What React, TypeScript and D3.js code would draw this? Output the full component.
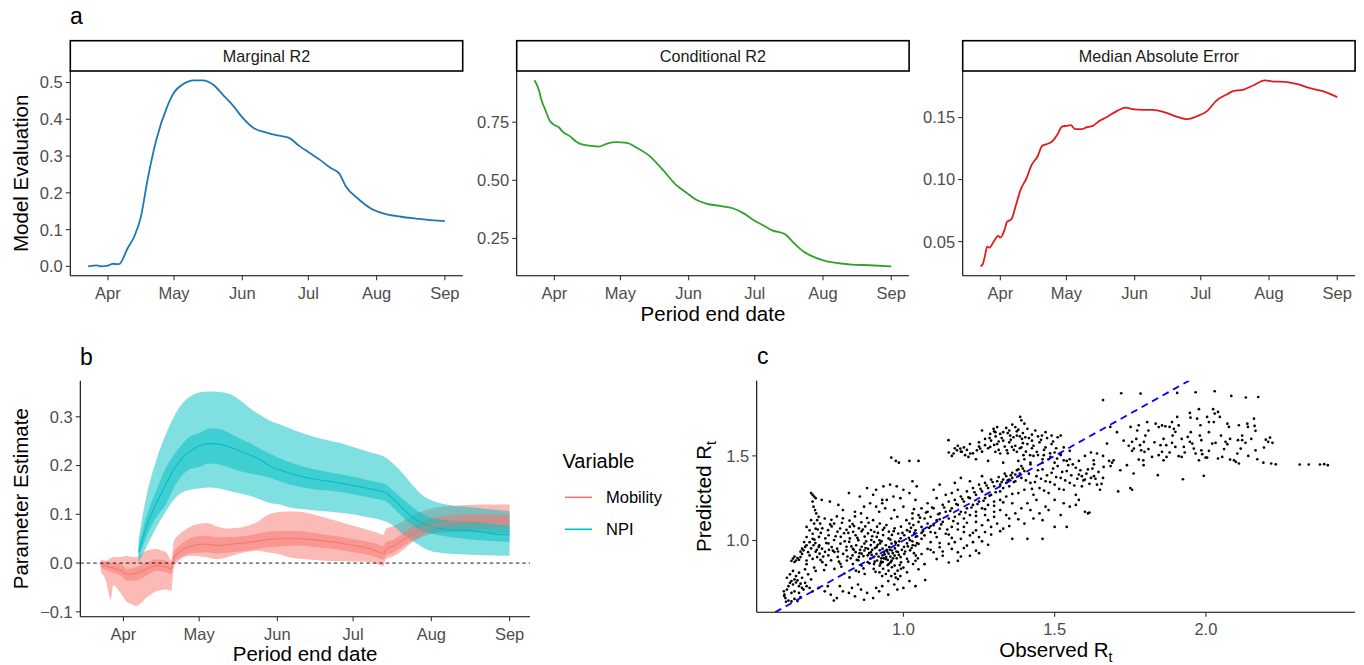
import React from 'react';
import * as d3 from 'd3';

// ---------------- DATA ----------------
const monthTickDates = ['04-01', '05-01', '06-01', '07-01', '08-01', '09-01'];
const monthTickLabels = ['Apr', 'May', 'Jun', 'Jul', 'Aug', 'Sep'];

const marginalDates = ['03-23','03-27','03-29','04-01','04-03','04-06','04-10','04-13','04-16','04-19','04-23','04-28','05-01','05-05','05-10','05-14','05-19','05-23','05-28','06-01','06-06','06-12','06-17','06-22','06-27','07-02','07-06','07-11','07-15','07-18','07-24','07-29','08-04','08-12','08-19','08-27','09-01'];
const marginalValues = [0.000,0.003,0.000,0.002,0.007,0.006,0.050,0.082,0.136,0.236,0.345,0.436,0.473,0.495,0.506,0.506,0.493,0.468,0.436,0.405,0.377,0.364,0.356,0.350,0.327,0.307,0.291,0.268,0.253,0.218,0.182,0.159,0.144,0.135,0.130,0.125,0.123];

const conditionalDates = ['03-23','03-25','03-26','03-28','03-30','04-01','04-03','04-05','04-08','04-11','04-14','04-18','04-21','04-25','04-29','05-04','05-08','05-14','05-20','05-26','05-31','06-04','06-09','06-15','06-21','06-26','06-30','07-05','07-09','07-15','07-18','07-23','07-27','08-01','08-07','08-14','08-22','09-01'];
const conditionalValues = [0.930,0.887,0.850,0.800,0.755,0.738,0.728,0.707,0.690,0.666,0.653,0.648,0.645,0.658,0.664,0.661,0.642,0.606,0.548,0.483,0.447,0.419,0.400,0.390,0.380,0.358,0.332,0.306,0.285,0.267,0.238,0.195,0.174,0.156,0.145,0.138,0.135,0.130];

const maeDates = ['03-23','03-24','03-25','03-26','03-27','03-29','03-31','04-01','04-03','04-04','04-06','04-08','04-10','04-13','04-15','04-18','04-20','04-22','04-24','04-27','04-29','05-01','05-03','05-05','05-08','05-10','05-13','05-16','05-19','05-24','05-28','05-31','06-05','06-09','06-15','06-20','06-25','06-29','07-04','07-08','07-13','07-16','07-20','07-25','07-30','08-03','08-08','08-14','08-20','08-25','08-29','09-01'];
const maeValues = [0.0300,0.0317,0.0385,0.0460,0.0450,0.0500,0.0546,0.0532,0.0600,0.0659,0.0680,0.0788,0.0909,0.1016,0.1110,0.1190,0.1272,0.1285,0.1300,0.1366,0.1427,0.1433,0.1438,0.1406,0.1406,0.1420,0.1433,0.1473,0.1500,0.1554,0.1580,0.1567,0.1562,0.1562,0.1540,0.1508,0.1487,0.1508,0.1554,0.1634,0.1688,0.1715,0.1723,0.1760,0.1800,0.1790,0.1788,0.1769,0.1734,0.1715,0.1688,0.1664];

const mobilityDates = ['03-23','03-25','03-27','03-28','03-30','04-01','04-02','04-04','04-06','04-08','04-10','04-12','04-14','04-16','04-18','04-20','04-21','04-23','04-25','04-28','05-01','05-04','05-08','05-12','05-16','05-20','05-24','05-28','06-01','06-05','06-10','06-15','06-20','06-25','06-30','07-05','07-10','07-13','07-14','07-17','07-21','07-25','07-30','08-04','08-09','08-15','08-21','08-26','09-01'];
const mobilityMean = [-0.003,-0.005,-0.009,-0.010,-0.013,-0.018,-0.023,-0.023,-0.021,-0.017,-0.012,-0.008,-0.005,-0.006,-0.008,-0.012,0.012,0.022,0.029,0.035,0.038,0.039,0.036,0.038,0.040,0.042,0.045,0.048,0.050,0.050,0.050,0.048,0.045,0.042,0.037,0.033,0.025,0.019,0.028,0.035,0.048,0.061,0.073,0.079,0.083,0.085,0.086,0.086,0.086];
const mobilityLo95 = [-0.019,-0.035,-0.075,-0.045,-0.055,-0.070,-0.078,-0.084,-0.088,-0.082,-0.071,-0.064,-0.058,-0.055,-0.054,-0.057,-0.008,0.005,0.012,0.015,0.014,0.012,0.008,0.012,0.018,0.023,0.025,0.022,0.019,0.013,0.009,0.007,0.005,0.004,0.003,0.003,-0.001,-0.006,0.008,0.014,0.028,0.044,0.057,0.062,0.063,0.063,0.063,0.061,0.060];
const mobilityHi95 = [0.008,0.005,0.010,0.013,0.012,0.013,0.015,0.013,0.012,0.018,0.025,0.028,0.029,0.026,0.022,0.005,0.045,0.058,0.067,0.076,0.080,0.082,0.075,0.071,0.072,0.076,0.084,0.098,0.104,0.106,0.105,0.100,0.093,0.086,0.078,0.071,0.063,0.058,0.070,0.076,0.087,0.099,0.109,0.115,0.117,0.119,0.120,0.120,0.120];
const mobilityLo50 = [-0.009,-0.014,-0.018,-0.020,-0.023,-0.030,-0.036,-0.036,-0.036,-0.031,-0.026,-0.020,-0.016,-0.017,-0.019,-0.023,0.000,0.010,0.015,0.020,0.021,0.022,0.019,0.021,0.023,0.026,0.029,0.032,0.034,0.035,0.036,0.033,0.031,0.028,0.023,0.019,0.012,0.007,0.015,0.021,0.035,0.048,0.059,0.064,0.067,0.069,0.070,0.071,0.072];
const mobilityHi50 = [0.003,0.002,0.000,0.000,-0.001,-0.006,-0.012,-0.011,-0.009,-0.004,0.001,0.005,0.008,0.007,0.005,-0.002,0.022,0.035,0.043,0.052,0.055,0.056,0.053,0.053,0.054,0.056,0.060,0.064,0.066,0.066,0.065,0.062,0.058,0.055,0.050,0.046,0.040,0.035,0.043,0.048,0.062,0.077,0.089,0.095,0.098,0.100,0.100,0.100,0.100];

const npiDates = ['04-07','04-10','04-14','04-18','04-21','04-24','04-27','05-01','05-05','05-09','05-13','05-17','05-21','05-25','05-29','06-02','06-06','06-11','06-16','06-21','06-26','07-01','07-06','07-10','07-14','07-17','07-21','07-25','07-29','08-03','08-09','08-16','08-23','08-29','09-01'];
const npiMean = [0.022,0.073,0.122,0.163,0.192,0.213,0.228,0.240,0.245,0.244,0.238,0.230,0.222,0.213,0.199,0.191,0.184,0.177,0.172,0.168,0.164,0.159,0.154,0.150,0.144,0.131,0.110,0.092,0.080,0.072,0.068,0.067,0.062,0.058,0.058];
const npiLo95 = [0.000,0.032,0.073,0.108,0.130,0.144,0.150,0.153,0.155,0.153,0.148,0.143,0.138,0.131,0.123,0.120,0.114,0.111,0.108,0.106,0.103,0.100,0.095,0.091,0.085,0.076,0.058,0.044,0.031,0.022,0.019,0.017,0.016,0.015,0.015];
const npiHi95 = [0.050,0.135,0.211,0.266,0.300,0.325,0.340,0.350,0.352,0.351,0.347,0.335,0.318,0.304,0.292,0.284,0.276,0.266,0.258,0.252,0.246,0.238,0.230,0.224,0.216,0.203,0.182,0.157,0.137,0.125,0.118,0.115,0.111,0.108,0.107];
const npiLo50 = [0.010,0.053,0.094,0.122,0.155,0.178,0.192,0.197,0.204,0.202,0.196,0.189,0.184,0.180,0.175,0.168,0.161,0.155,0.151,0.149,0.146,0.141,0.136,0.132,0.127,0.113,0.093,0.076,0.064,0.058,0.053,0.049,0.046,0.044,0.043];
const npiHi50 = [0.035,0.094,0.149,0.197,0.222,0.242,0.258,0.266,0.276,0.275,0.266,0.256,0.246,0.235,0.224,0.215,0.207,0.198,0.192,0.187,0.182,0.177,0.171,0.167,0.161,0.148,0.130,0.113,0.099,0.091,0.087,0.086,0.082,0.078,0.077];

const variableNames = ['Mobility', 'NPI'];

// observed Rt, predicted Rt
const rtPoints: [number, number][] = [
[0.605,0.70],[0.607,0.68],[0.61,0.66],[0.606,0.672],[0.615,0.71],[0.62,0.73],[0.625,0.75],[0.63,0.76],[0.635,0.74],[0.64,0.77],[0.645,0.752],[0.65,0.765],[0.655,0.73],[0.66,0.745],[0.665,0.72],[0.62,0.645],[0.63,0.64],[0.64,0.655],[0.65,0.642],[0.612,0.638],[0.67,0.71],[0.68,0.73],[0.64,0.70],[0.63,0.69],[0.655,0.69],[0.66,0.665],[0.675,0.75],[0.69,0.72],[0.645,0.79],[0.665,0.78],
[0.615,0.78],[0.625,0.80],[0.635,0.82],[0.655,0.81],[0.675,0.83],[0.685,0.80],[0.695,0.77],[0.705,0.84],[0.68,0.86],[0.71,0.82],[0.69,0.99],[0.70,1.01],[0.68,1.02],[0.68,1.08],[0.695,1.12],[0.705,1.10],[0.71,1.07],
[0.63,0.88],[0.635,0.893],[0.64,0.873],[0.645,0.882],[0.65,0.896],[0.655,0.886],[0.66,0.902],[0.665,0.921],[0.67,0.942],[0.675,0.962],[0.672,0.991],[0.68,0.972],[0.665,0.952],[0.685,0.931],[0.69,0.912],[0.695,0.953],[0.70,0.891],[0.703,0.972],[0.71,0.934],[0.715,0.902],[0.72,0.962],[0.66,0.934],[0.68,0.882],[0.64,0.905],
[0.695,1.28],[0.70,1.27],[0.705,1.26],[0.71,1.25],[0.70,1.23],[0.703,1.20],[0.708,1.18],[0.712,1.16],[0.72,1.14],[0.73,1.24],[0.757,1.23],[0.785,1.21],[0.715,1.12],[0.725,1.10],[0.69,1.06],[0.70,1.04],
[0.74,1.13],[0.762,1.122],[0.78,1.142],[0.80,1.131],[0.822,1.118],[0.84,1.142],[0.861,1.108],[0.88,1.133],[0.771,1.10],[0.832,1.097],[0.90,1.12],[0.922,1.10],
[0.732,1.072],[0.751,1.061],[0.763,1.083],[0.782,1.052],[0.791,1.071],[0.812,1.063],[0.823,1.082],[0.834,1.051],[0.853,1.072],[0.862,1.054],[0.874,1.083],[0.893,1.062],[0.904,1.051],[0.913,1.082],[0.932,1.063],[0.944,1.091],[0.952,1.052],[0.971,1.072],[0.983,1.041],[0.992,1.082],[1.012,1.061],[1.021,1.052],[1.033,1.091],
[0.721,1.021],[0.742,1.012],[0.753,1.031],[0.771,1.003],[0.793,1.022],[0.804,1.043],[0.823,1.012],[0.842,1.031],[0.851,1.002],[0.872,1.023],[0.883,1.042],[0.894,1.003],[0.912,1.021],[0.921,1.001],[0.933,1.032],[0.951,1.012],[0.962,1.033],[0.973,0.992],[0.991,1.013],[1.003,1.031],[1.022,1.002],[1.041,1.022],
[0.722,0.972],[0.731,0.952],[0.752,0.983],[0.763,0.961],[0.781,0.952],[0.792,0.981],[0.812,0.963],[0.821,0.992],[0.833,0.951],[0.844,0.972],[0.862,0.963],[0.871,0.982],[0.883,0.951],[0.892,0.973],[0.903,0.991],[0.912,0.962],[0.923,0.983],[0.931,0.952],[0.942,0.972],[0.953,0.961],[0.961,0.982],[0.972,0.953],[0.983,0.971],[1.002,0.962],[1.012,0.983],[1.031,0.972],
[0.723,0.922],[0.741,0.933],[0.752,0.912],[0.772,0.932],[0.783,0.903],[0.801,0.921],[0.812,0.942],[0.832,0.912],[0.842,0.931],[0.853,0.903],[0.862,0.922],[0.871,0.941],[0.882,0.912],[0.893,0.932],[0.902,0.903],[0.911,0.921],[0.922,0.942],[0.931,0.912],[0.935,0.931],[0.943,0.902],[0.951,0.922],[0.962,0.941],[0.971,0.911],[0.982,0.932],[0.991,0.902],[1.003,0.921],[1.022,0.942],[1.041,0.911],
[0.732,0.872],[0.761,0.883],[0.792,0.862],[0.813,0.882],[0.833,0.861],[0.851,0.883],[0.862,0.852],[0.882,0.872],[0.891,0.893],[0.903,0.861],[0.913,0.882],[0.922,0.852],[0.932,0.873],[0.941,0.891],[0.952,0.862],[0.961,0.881],[0.971,0.852],[0.992,0.871],[1.012,0.892],[1.032,0.861],
[0.772,0.832],[0.843,0.822],[0.902,0.832],[0.921,0.812],[0.933,0.833],[0.942,0.802],[0.951,0.822],[0.962,0.842],[0.972,0.803],[0.981,0.822],[0.975,0.781],[0.982,0.772],[0.992,0.833],[1.012,0.812],[0.872,0.802],[0.822,0.782],
[0.918,0.905],[0.927,0.895],[0.938,0.918],[0.948,0.885],[0.926,0.875],[0.945,0.945],[0.957,0.905],[0.965,0.925],[0.985,0.915],[0.897,0.945],[0.887,0.925],[0.868,0.908],[0.958,0.872],[0.978,0.895],[0.905,0.875],
[0.727,1.045],[0.745,0.985],[0.758,1.095],[0.767,0.94],[0.776,1.025],[0.787,0.875],[0.797,1.105],[0.806,0.995],[0.815,0.905],[0.818,1.045],[0.828,0.965],[0.837,1.085],[0.846,0.885],[0.848,1.015],[0.857,0.945],[0.866,1.065],[0.868,0.835],[0.877,0.995],[0.885,1.105],[0.888,0.865],[0.897,1.025],[0.906,0.955],[0.908,0.815],[0.916,1.045],[0.925,0.865],[0.928,0.995],[0.937,1.075],[0.946,0.935],[0.948,0.855],[0.957,1.005],[0.966,0.895],[0.968,1.055],[0.977,0.935],[0.986,0.995],[0.988,0.855],[0.997,1.045],[1.006,0.935],[1.016,0.875],[1.018,1.015],[1.027,0.955],[1.036,1.045],[1.045,0.985],[1.048,0.895],
[0.735,0.905],[0.744,0.855],[0.754,0.945],[0.784,0.935],[0.795,0.845],[0.826,0.895],[0.836,0.945],[0.855,0.925],[0.875,0.955],[0.895,0.915],[0.915,0.975],[0.935,0.895],[0.955,0.945],[0.975,0.985],[0.995,0.945],[1.015,0.965],[1.035,0.925],
[0.706,1.005],[0.714,0.945],[0.717,1.065],[0.709,0.985],[0.726,0.885],[0.738,0.825],[0.805,0.805],[0.853,0.815],[0.93,0.79],[0.96,0.79],[0.95,0.76],[0.99,0.79],[1.00,0.84],
[0.72,0.72],[0.74,0.70],[0.75,0.73],[0.76,0.68],[0.78,0.66],[0.79,0.73],[0.80,0.70],[0.82,0.69],[0.83,0.72],[0.84,0.67],[0.86,0.71],[0.87,0.65],[0.88,0.69],[0.90,0.66],[0.91,0.72],[0.92,0.70],[0.93,0.73],[0.95,0.68],[0.97,0.74],[0.98,0.71],[1.00,0.72],[1.02,0.76],[0.85,0.74],[0.70,0.70],[0.77,0.645],
[0.82,1.28],[0.856,1.26],[0.90,1.27],[0.80,1.18],[0.84,1.17],[0.87,1.20],[0.89,1.22],[0.86,1.16],[0.88,1.31],[0.91,1.30],[0.93,1.24],[0.92,1.17],[0.94,1.19],
[0.934,1.32],[0.956,1.33],[0.978,1.32],[1.0,1.30],[0.91,1.20],[0.93,1.22],[0.945,1.24],[0.967,1.26],[0.99,1.25],[1.02,1.28],[1.044,1.32],[0.96,1.49],[0.975,1.47],[0.985,1.46],[1.02,1.47],[1.05,1.47],[0.97,1.18],[1.00,1.20],[1.03,1.16],[0.98,1.14],[1.01,1.12],[0.96,1.13],[1.04,1.24],[1.03,1.35],
[1.02,1.10],[1.03,1.13],[1.04,1.06],[1.05,1.11],[1.05,1.15],[1.06,1.08],[1.06,1.19],[1.07,1.03],[1.07,1.13],[1.08,1.10],[1.08,1.22],[1.06,1.01],[1.05,0.98],[1.04,0.97],[1.08,1.17],
[1.09,1.05],[1.09,1.14],[1.10,1.09],[1.10,1.19],[1.11,1.02],[1.11,1.12],[1.11,1.25],[1.12,1.16],[1.12,1.07],[1.13,1.21],[1.13,1.11],[1.14,1.04],[1.14,1.27],[1.14,1.17],[1.15,1.13],[1.15,1.23],[1.10,1.30],[1.12,1.33],[1.09,0.99],
[1.16,1.08],[1.16,1.19],[1.16,1.28],[1.17,1.14],[1.17,1.24],[1.17,1.34],[1.18,1.10],[1.18,1.21],[1.18,1.30],[1.19,1.17],[1.19,1.26],[1.20,1.05],[1.20,1.13],[1.20,1.23],[1.21,1.19],[1.21,1.29],[1.22,1.15],[1.22,1.25],[1.22,1.35],[1.19,1.37],
[1.23,1.21],[1.23,1.31],[1.24,1.11],[1.24,1.17],[1.24,1.27],[1.25,1.23],[1.25,1.33],[1.26,1.19],[1.26,1.29],[1.26,1.38],[1.27,1.15],[1.27,1.25],[1.27,1.34],[1.28,1.21],[1.28,1.31],[1.29,1.27],[1.29,1.36],[1.30,1.23],[1.30,1.32],[1.30,1.17],
[1.31,1.35],[1.32,1.33],[1.32,1.29],[1.33,1.36],[1.33,1.31],[1.34,1.34],[1.34,1.38],[1.35,1.36],[1.35,1.32],[1.36,1.37],[1.36,1.40],[1.37,1.35],[1.37,1.39],[1.38,1.38],[1.38,1.42],[1.39,1.37],[1.39,1.44],[1.40,1.41],[1.32,1.24],[1.34,1.26],[1.36,1.22],[1.38,1.28],
[1.025,1.075],[1.035,1.185],[1.045,1.025],[1.055,1.135],[1.065,1.055],[1.075,1.165],[1.085,1.075],[1.095,1.195],[1.105,1.045],[1.115,1.155],[1.125,1.095],[1.135,1.195],[1.145,1.065],[1.155,1.175],[1.165,1.115],[1.175,1.215],[1.185,1.155],[1.195,1.245],[1.205,1.165],[1.215,1.255],[1.225,1.195],[1.235,1.285],[1.245,1.215],[1.255,1.305],[1.265,1.235],[1.275,1.325],[1.285,1.265],[1.295,1.345],[1.305,1.285],[1.315,1.375],[1.325,1.345],[1.335,1.395],[1.345,1.355],[1.355,1.385],[1.365,1.345],[1.375,1.415],[1.385,1.395],[1.395,1.425],
[1.03,0.995],[1.06,1.045],[1.09,1.085],[1.12,1.125],[1.15,1.035],[1.18,1.065],[1.21,1.105],[1.24,1.145],[1.27,1.185],[1.30,1.205],[1.33,1.225],[1.36,1.275],[1.09,0.945],[1.12,0.985],[1.16,1.015],[1.20,0.955],[1.23,1.045],[1.26,0.995],[1.29,1.035],[1.32,1.055],[1.35,1.085],[1.38,1.125],[1.13,0.935],[1.19,0.905],[1.25,0.925],[1.28,0.975],
[1.06,0.92],[1.08,0.95],[1.10,0.93],[1.12,0.96],[1.13,0.91],[1.15,0.98],[1.16,0.95],[1.17,0.99],[1.18,0.93],[1.19,1.01],[1.21,0.97],[1.22,1.03],[1.23,0.99],[1.24,1.06],[1.25,1.02],[1.26,1.09],[1.27,1.05],[1.28,1.12],[1.29,1.08],[1.30,1.14],[1.31,1.10],[1.33,1.07],[1.35,1.13],[1.36,1.01],[1.41,1.01],[1.18,0.88],[1.15,0.87],[1.22,0.91],[1.24,0.94],[1.11,0.89],[1.07,0.86],[1.04,0.88],[1.05,0.83],[1.072,0.766],[1.04,0.73],[1.20,1.08],[1.32,1.18],[1.34,1.15],
[1.149,1.593],[1.166,1.514],[1.177,1.533],[1.188,1.543],[1.193,1.524],[1.204,1.504],[1.215,1.494],[1.221,1.514],[1.243,1.533],[1.254,1.543],[1.27,1.563],[1.287,1.553],[1.304,1.524],[1.32,1.514],[1.342,1.533],[1.359,1.553],[1.375,1.524],[1.397,1.504],[1.419,1.504],[1.441,1.524],[1.464,1.504],[1.486,1.494],[1.508,1.484],[1.53,1.474],
[1.287,1.63],[1.298,1.66],[1.304,1.64],[1.32,1.63],[1.33,1.64],[1.353,1.62],[1.364,1.61],[1.375,1.62],[1.392,1.60],[1.403,1.61],[1.425,1.59],[1.436,1.65],[1.458,1.62],[1.47,1.64],[1.49,1.62],[1.51,1.61],[1.52,1.62],
[1.386,1.73],[1.39,1.71],[1.40,1.69],[1.37,1.67],[1.41,1.66],
[1.18,1.56],[1.20,1.55],[1.22,1.57],[1.25,1.58],[1.27,1.60],[1.29,1.59],[1.31,1.57],[1.33,1.59],[1.35,1.58],[1.37,1.56],[1.39,1.55],[1.41,1.57],[1.43,1.56],[1.45,1.58],[1.47,1.55],[1.49,1.57],[1.15,1.52],[1.16,1.50],[1.24,1.48],[1.28,1.47],[1.33,1.46],[1.38,1.47],[1.42,1.45],[1.46,1.46],[1.50,1.52],[1.53,1.55],[1.55,1.53],[1.26,1.65],[1.31,1.67],[1.35,1.65],
[1.17,1.545],[1.19,1.525],[1.21,1.535],[1.23,1.515],[1.25,1.555],[1.26,1.525],[1.28,1.545],[1.30,1.565],[1.315,1.535],[1.335,1.555],[1.345,1.515],[1.365,1.535],[1.385,1.545],[1.405,1.525],[1.425,1.545],[1.445,1.505],[1.465,1.535],[1.485,1.515],[1.505,1.545],[1.52,1.505],
[1.285,1.605],[1.305,1.615],[1.325,1.605],[1.345,1.635],[1.355,1.595],[1.375,1.645],[1.385,1.615],[1.395,1.635],[1.415,1.605],[1.425,1.625],[1.445,1.615],[1.455,1.595],[1.475,1.605],[1.495,1.585],[1.34,1.665],[1.36,1.685],[1.38,1.655],[1.30,1.645],[1.315,1.585],[1.395,1.575],
[1.52,1.51],[1.54,1.47],[1.57,1.43],[1.58,1.39],[1.59,1.38],[1.60,1.36],[1.62,1.37],[1.63,1.38],[1.66,1.37],[1.68,1.47],[1.685,1.44],[1.69,1.46],[1.71,1.29],[1.75,1.31],[1.60,1.17],[1.61,1.16],[1.615,1.165],[1.57,1.21],[1.50,1.08],[1.54,1.08],[1.46,1.01],
[1.40,1.30],[1.42,1.34],[1.43,1.27],[1.44,1.38],[1.45,1.31],[1.46,1.42],[1.47,1.35],[1.48,1.28],[1.49,1.40],[1.50,1.33],[1.51,1.44],[1.52,1.37],[1.53,1.30],[1.54,1.41],[1.55,1.34],[1.56,1.45],[1.57,1.27],[1.58,1.47],[1.59,1.32],[1.61,1.42],[1.63,1.45],[1.64,1.33],[1.65,1.30],[1.41,1.22],[1.44,1.24],[1.47,1.20],[1.50,1.24],[1.53,1.22],[1.45,1.16],[1.43,1.13],[1.39,1.19],[1.40,1.48],[1.43,1.50],[1.48,1.48],
[1.405,1.355],[1.415,1.395],[1.425,1.305],[1.435,1.345],[1.445,1.415],[1.455,1.365],[1.465,1.295],[1.475,1.385],[1.485,1.345],[1.495,1.425],[1.505,1.375],[1.515,1.305],[1.525,1.405],[1.535,1.355],[1.545,1.445],[1.555,1.385],[1.565,1.325],[1.575,1.365],[1.585,1.415],[1.595,1.355],[1.605,1.395],[1.615,1.335],[1.625,1.425],[1.635,1.365],[1.645,1.405],[1.655,1.335],[1.42,1.46],[1.46,1.48],[1.50,1.46],[1.55,1.48],[1.60,1.50],[1.62,1.52],[1.66,1.50],
[1.37,1.16],[1.40,1.10],[1.42,1.18],[1.46,1.12],[1.48,1.18],[1.52,1.15],[1.55,1.20],[1.58,1.24],
[1.684,1.671],[1.706,1.64],[1.728,1.59],[1.745,1.56],[1.756,1.53],[1.673,1.573],[1.695,1.474],[1.717,1.415],[1.739,1.445],[1.761,1.396],[1.64,1.514],[1.629,1.474],[1.662,1.435],[1.773,1.65],[1.66,1.83],[1.72,1.87],
[1.751,1.671],[1.778,1.681],[1.806,1.70],[1.81,1.65],[1.834,1.69],[1.844,1.67],[1.855,1.68],[1.866,1.675],[1.88,1.671],[1.888,1.70],[1.894,1.66],[1.899,1.642],[1.905,1.73],[1.91,1.68],[1.947,1.754],[1.949,1.726],[1.977,1.776],[1.971,1.72],[1.982,1.681],[2.004,1.73],[2.01,1.70],[2.024,1.776],[2.029,1.75],[2.04,1.76],[2.046,1.73],[2.026,1.70],[2.071,1.69],[2.076,1.671],[2.109,1.681],[2.137,1.69],[2.139,1.671],[2.159,1.72],[2.161,1.677],[2.164,1.648],
[1.756,1.583],[1.762,1.543],[1.782,1.563],[1.786,1.533],[1.795,1.583],[1.797,1.524],[1.778,1.478],[1.793,1.474],[1.794,1.445],[1.822,1.494],[1.844,1.504],[1.85,1.563],[1.855,1.524],[1.86,1.474],[1.869,1.563],[1.87,1.494],[1.888,1.577],[1.899,1.553],[1.91,1.498],[1.92,1.494],[1.927,1.553],[1.94,1.612],[1.947,1.583],[1.955,1.573],[1.96,1.543],[1.966,1.514],[1.977,1.474],[1.985,1.593],[1.985,1.533],[1.988,1.51],[1.999,1.49],[2.004,1.49],[2.021,1.573],[2.032,1.577],[2.04,1.484],[2.054,1.494],[2.065,1.583],[2.071,1.569],[2.08,1.478],[2.093,1.474],[2.099,1.465],[2.104,1.514],[2.109,1.455],[2.115,1.543],[2.106,1.593],[2.12,1.593],[2.131,1.577],[2.164,1.533],[2.192,1.549],[2.198,1.596],[2.206,1.583],[2.212,1.608],[2.22,1.577],
[1.77,1.60],[1.80,1.62],[1.83,1.58],[1.86,1.60],[1.89,1.62],[1.92,1.60],[1.95,1.64],[1.98,1.62],[2.01,1.64],[2.05,1.62],[2.08,1.60],[2.12,1.62],[2.15,1.60],[1.81,1.54],[1.88,1.52],[1.93,1.52],[2.01,1.53],[2.06,1.54],[2.14,1.50],[2.17,1.48],[2.19,1.46],
[1.841,1.386],[1.924,1.362],[1.993,1.382],[1.756,1.30],
[2.216,1.455],[2.231,1.45],[2.31,1.449],[2.34,1.449],[2.377,1.449],[2.391,1.451],[2.403,1.445],
[1.784,1.868],[1.905,1.872],[1.966,1.876],[2.029,1.882],[2.084,1.854],[2.132,1.845],[2.173,1.848]
];

const rtTicks = [1.0, 1.5, 2.0];

// ---------------- HELPERS ----------------
const FONT = '"Liberation Sans", Arial, Helvetica, sans-serif';
const TICK_COL = '#4D4D4D';
const parseDate = d3.timeParse('%Y-%m-%d');
const dt = (s: string) => parseDate('2020-' + s) as Date;

function expand(ext: [number, number], f = 0.05): [number, number] {
  const r = ext[1] - ext[0];
  return [ext[0] - r * f, ext[1] + r * f];
}
function expandDates(dates: string[]): [Date, Date] {
  const ms = dates.map(s => dt(s).getTime());
  const [a, b] = expand(d3.extent(ms) as [number, number]);
  return [new Date(a), new Date(b)];
}

function LeftAxis({ x, y0, y1, ticks, scale, fmt }: any) {
  return (
    <g>
      <line x1={x} x2={x} y1={y0} y2={y1} stroke="#000" strokeWidth={1.1} />
      {ticks.map((t: number) => (
        <g key={t}>
          <line x1={x - 4.5} x2={x} y1={scale(t)} y2={scale(t)} stroke="#333" strokeWidth={1.1} />
          <text x={x - 7.5} y={scale(t)} dy="0.36em" textAnchor="end" fontSize={16.5} fill={TICK_COL}>{fmt(t)}</text>
        </g>
      ))}
    </g>
  );
}

function BottomAxis({ y, x0, x1, ticks, labels, scale, labelDy = 23.3, fontSize = 16.5 }: any) {
  return (
    <g>
      <line x1={x0} x2={x1} y1={y} y2={y} stroke="#000" strokeWidth={1.1} />
      {ticks.map((t: any, i: number) => (
        <g key={i}>
          <line x1={scale(t)} x2={scale(t)} y1={y} y2={y + 4.5} stroke="#333" strokeWidth={1.1} />
          <text x={scale(t)} y={y + labelDy} textAnchor="middle" fontSize={fontSize} fill={TICK_COL}>{labels[i]}</text>
        </g>
      ))}
    </g>
  );
}

// ---------------- PANEL A ----------------
const A_W = 392.4, A_TOP = 71, A_BOT = 275.7, STRIP_TOP = 40.7;

const aPanels = [
  { title: 'Marginal R2', dates: marginalDates, values: marginalValues, color: '#1F78B4', ticks: [0, 0.1, 0.2, 0.3, 0.4, 0.5], fmt: d3.format('.1f'), x0: 70.3 },
  { title: 'Conditional R2', dates: conditionalDates, values: conditionalValues, color: '#33A02C', ticks: [0.25, 0.5, 0.75], fmt: d3.format('.2f'), x0: 516.7 },
  { title: 'Median Absolute Error', dates: maeDates, values: maeValues, color: '#E31A1C', ticks: [0.05, 0.1, 0.15], fmt: d3.format('.2f'), x0: 962.7 },
];

function PanelA({ p }: any) {
  const x = d3.scaleTime().domain(expandDates(p.dates)).range([p.x0, p.x0 + A_W]);
  const y = d3.scaleLinear().domain(expand(d3.extent(p.values) as [number, number])).range([A_BOT, A_TOP]);
  const line = d3.line<number>()
    .x((_, i) => x(dt(p.dates[i])))
    .y(v => y(v))
    .curve(d3.curveMonotoneX);
  return (
    <g>
      <rect x={p.x0} y={STRIP_TOP} width={A_W} height={A_TOP - STRIP_TOP} fill="#fff" stroke="#000" strokeWidth={1.6} />
      <text x={p.x0 + A_W / 2} y={(STRIP_TOP + A_TOP) / 2} dy="0.36em" textAnchor="middle" fontSize={16.2} fill="#1A1A1A">{p.title}</text>
      <path d={line(p.values) || ''} fill="none" stroke={p.color} strokeWidth={1.8} strokeLinejoin="round" />
      <LeftAxis x={p.x0} y0={A_TOP} y1={A_BOT} ticks={p.ticks} scale={y} fmt={p.fmt} />
      <BottomAxis y={A_BOT} x0={p.x0} x1={p.x0 + A_W} ticks={monthTickDates.map(dt)} labels={monthTickLabels} scale={x} />
    </g>
  );
}

// ---------------- PANEL B ----------------
const B_X0 = 80.3, B_X1 = 530, B_TOP = 380.7, B_BOT = 616.7;
const MOB_COL = '#F8766D', NPI_COL = '#00BFC4';

function PanelB() {
  const x = d3.scaleTime().domain(expandDates([...mobilityDates, ...npiDates])).range([B_X0, B_X1]);
  const allVals = [...mobilityLo95, ...mobilityHi95, ...npiLo95, ...npiHi95];
  const y = d3.scaleLinear().domain(expand(d3.extent(allVals) as [number, number])).range([B_BOT, B_TOP]);
  const series = [
    { dates: mobilityDates, mean: mobilityMean, lo95: mobilityLo95, hi95: mobilityHi95, lo50: mobilityLo50, hi50: mobilityHi50, color: MOB_COL },
    { dates: npiDates, mean: npiMean, lo95: npiLo95, hi95: npiHi95, lo50: npiLo50, hi50: npiHi50, color: NPI_COL },
  ];
  const band = (s: any, lo: number[], hi: number[]) =>
    d3.area<number>().x((_, i) => x(dt(s.dates[i]))).y0((_, i) => y(lo[i])).y1((_, i) => y(hi[i])).curve(d3.curveMonotoneX)(lo) || '';
  const line = (s: any) =>
    d3.line<number>().x((_, i) => x(dt(s.dates[i]))).y(v => y(v)).curve(d3.curveMonotoneX)(s.mean) || '';
  const yTicks = [-0.1, 0, 0.1, 0.2, 0.3];
  const fmt = (v: number) => (v < 0 ? '\u2212' : '') + d3.format('.1f')(Math.abs(v));
  return (
    <g>
      {series.map((s, i) => <path key={'o' + i} d={band(s, s.lo95, s.hi95)} fill={s.color} fillOpacity={0.5} />)}
      {series.map((s, i) => <path key={'i' + i} d={band(s, s.lo50, s.hi50)} fill={s.color} fillOpacity={0.5} />)}
      {series.map((s, i) => <path key={'l' + i} d={line(s)} fill="none" stroke={s.color} strokeWidth={1.1} />)}
      <line x1={B_X0} x2={B_X1} y1={y(0)} y2={y(0)} stroke="#000" strokeWidth={0.9} strokeDasharray="3.5,3" />
      <LeftAxis x={B_X0} y0={B_TOP} y1={B_BOT} ticks={yTicks} scale={y} fmt={fmt} />
      <BottomAxis y={B_BOT} x0={B_X0} x1={B_X1} ticks={monthTickDates.map(dt)} labels={monthTickLabels} scale={x} />
      <text transform={`translate(28,${(B_TOP + B_BOT) / 2}) rotate(-90)`} textAnchor="middle" fontSize={20.5} fill="#000">Parameter Estimate</text>
      <text x={(B_X0 + B_X1) / 2} y={661} textAnchor="middle" fontSize={20.5} fill="#000">Period end date</text>
      <text x={562.5} y={468} fontSize={20} fill="#000">Variable</text>
      {variableNames.map((n, i) => (
        <g key={n}>
          <line x1={565} x2={592} y1={497.3 + i * 32} y2={497.3 + i * 32} stroke={i === 0 ? MOB_COL : NPI_COL} strokeWidth={1.6} />
          <text x={606} y={497.3 + i * 32} dy="0.36em" fontSize={16.5} fill="#000">{n}</text>
        </g>
      ))}
    </g>
  );
}

// ---------------- PANEL C ----------------
const C_X0 = 756.7, C_X1 = 1355, C_TOP = 380.7, C_BOT = 612.3;

function PanelC() {
  const x = d3.scaleLinear().domain(expand(d3.extent(rtPoints, d => d[0]) as [number, number])).range([C_X0, C_X1]);
  const yDom = expand(d3.extent(rtPoints, d => d[1]) as [number, number]);
  const y = d3.scaleLinear().domain(yDom).range([C_BOT, C_TOP]);
  const fmt = d3.format('.1f');
  return (
    <g>
      <defs>
        <clipPath id="clipC"><rect x={C_X0} y={C_TOP} width={C_X1 - C_X0} height={C_BOT - C_TOP} /></clipPath>
      </defs>
      <g>
        {rtPoints.map((d, i) => <circle key={i} cx={x(d[0])} cy={y(d[1])} r={1.35} fill="#000" />)}
      </g>
      <line clipPath="url(#clipC)" x1={x(yDom[0])} y1={y(yDom[0])} x2={x(yDom[1])} y2={y(yDom[1])} stroke="#0000FF" strokeWidth={1.8} strokeDasharray="7,5" />
      <LeftAxis x={C_X0} y0={C_TOP} y1={C_BOT} ticks={[1.0, 1.5]} scale={y} fmt={fmt} />
      <BottomAxis y={C_BOT} x0={C_X0} x1={C_X1} ticks={rtTicks} labels={rtTicks.map(fmt)} scale={x} labelDy={23} />
      <text transform={`translate(711,${(C_TOP + C_BOT) / 2}) rotate(-90)`} textAnchor="middle" fontSize={20.5} fill="#000">
        Predicted R<tspan fontSize={14} dy={5}>t</tspan>
      </text>
      <text x={(C_X0 + C_X1) / 2} y={657} textAnchor="middle" fontSize={20.5} fill="#000">
        Observed R<tspan fontSize={14} dy={5}>t</tspan>
      </text>
    </g>
  );
}

export default function App() {
  return (
    <svg width={1364} height={665} style={{ position: 'absolute', left: 0, top: 0, background: '#fff' }} fontFamily={FONT}>
      <rect width={1364} height={665} fill="#fff" />
      <text x={70} y={24} fontSize={23} fill="#000">a</text>
      {aPanels.map(p => <PanelA key={p.title} p={p} />)}
      <text transform={`translate(28,${(A_TOP + A_BOT) / 2}) rotate(-90)`} textAnchor="middle" fontSize={20.5} fill="#000">Model Evaluation</text>
      <text x={713} y={321} textAnchor="middle" fontSize={20.5} fill="#000">Period end date</text>
      <text x={80} y={365} fontSize={23} fill="#000">b</text>
      <PanelB />
      <text x={757} y={364} fontSize={23} fill="#000">c</text>
      <PanelC />
    </svg>
  );
}
